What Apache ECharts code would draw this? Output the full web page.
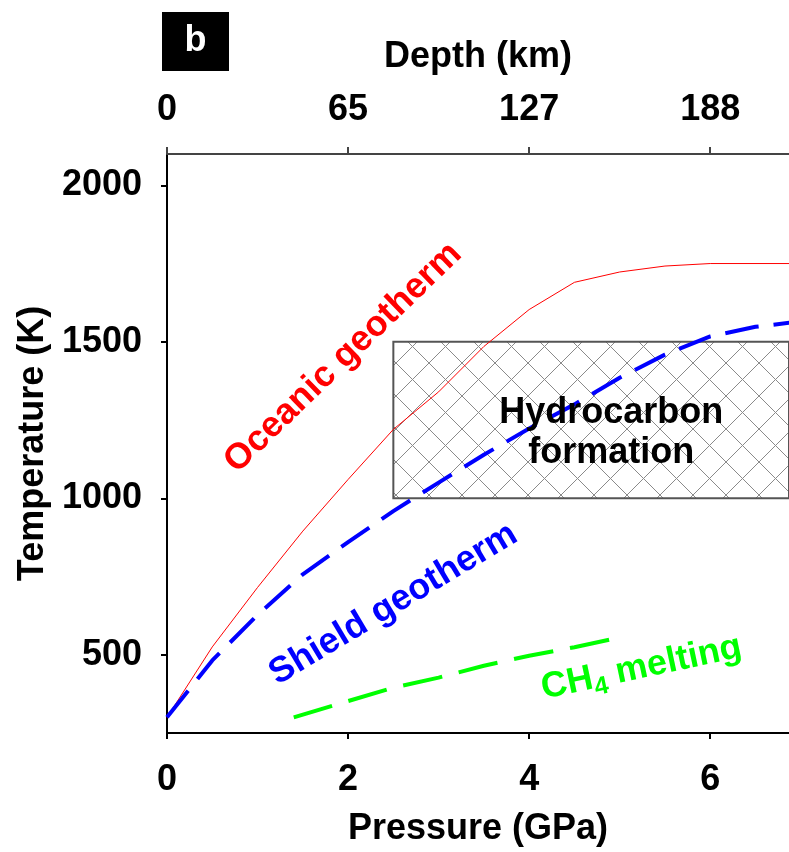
<!DOCTYPE html>
<html>
<head>
<meta charset="utf-8">
<script src="https://cdn.jsdelivr.net/npm/echarts@6/dist/echarts.min.js"></script>
<style>
html, body { margin: 0; padding: 0; background: #fff; }
#main { width: 789px; height: 852px; }
</style>
</head>
<body>
<div id="main"></div>
<script>
// 数据：压力 (GPa) / 温度 (K)
var oceanicP = [0, 0.5, 1, 1.5, 2, 2.5, 3, 3.5, 4, 4.5, 5, 5.5, 6, 7];
var oceanicT = [300, 525, 715, 895, 1060, 1220, 1340, 1485, 1603, 1690, 1723, 1742, 1750, 1750];
var shieldP = [0, 0.5, 1, 1.5, 2, 2.5, 3, 3.5, 4, 4.5, 5, 5.5, 6, 6.5, 7];
var shieldT = [300, 482, 627, 757, 860, 959, 1050, 1139, 1223, 1300, 1385, 1459, 1517, 1548, 1565];
var ch4P = [1.4, 2, 2.5, 3, 3.5, 4, 4.5, 4.95];
var ch4T = [300, 352, 395, 427, 465, 497, 524, 552];
// 烃类生成区域
var hcPressure = [2.5, 7];
var hcTemp = [1000, 1500];
// 刻度
var pressureTicks = [0, 2, 4, 6];
var depthLabels = ['0', '65', '127', '188'];
var tempTicks = [500, 1000, 1500, 2000];

var xMax = 6.87;
var fontFam = "'Liberation Sans', Arial, sans-serif";

function zip(a, b) {
    return a.map(function (v, i) { return [v, b[i]]; });
}

// 网格图案
function hatchPattern() {
    var s = 33;
    var c = document.createElement('canvas');
    c.width = s; c.height = s;
    var ctx = c.getContext('2d');
    ctx.fillStyle = '#fff';
    ctx.fillRect(0, 0, s, s);
    ctx.strokeStyle = '#8a8a8a';
    ctx.lineWidth = 1;
    ctx.beginPath();
    ctx.moveTo(-2, -2); ctx.lineTo(s + 2, s + 2);
    ctx.moveTo(s + 2, -2); ctx.lineTo(-2, s + 2);
    ctx.stroke();
    return { image: c, repeat: 'repeat' };
}

(function () {
    var myChart = echarts.init(document.getElementById('main'), null, { renderer: 'canvas' });
    var boldText = { fontSize: 36, fontWeight: 'bold', color: '#000', fontFamily: fontFam };

    var option = {
        animation: false,
        backgroundColor: '#fff',
        grid: { left: 167, right: 0, top: 154, bottom: 118 },
        xAxis: [
            {
                type: 'value', position: 'bottom', min: 0, max: xMax,
                name: 'Pressure (GPa)', nameLocation: 'middle', nameGap: 78,
                nameTextStyle: boldText,
                axisLine: { show: true, onZero: false, lineStyle: { color: '#000', width: 2 } },
                axisTick: { show: true, length: 6, customValues: pressureTicks, lineStyle: { color: '#000', width: 2 } },
                axisLabel: Object.assign({ customValues: pressureTicks, margin: 29 }, boldText),
                splitLine: { show: false }
            },
            {
                type: 'value', position: 'top', min: 0, max: xMax,
                name: 'Depth (km)', nameLocation: 'middle', nameGap: 79,
                nameTextStyle: boldText,
                axisLine: { show: true, onZero: false, lineStyle: { color: '#444', width: 2 } },
                axisTick: { show: true, length: 7, customValues: pressureTicks, lineStyle: { color: '#444', width: 2 } },
                axisLabel: Object.assign({
                    customValues: pressureTicks, margin: 26,
                    formatter: function (v) {
                        var i = pressureTicks.indexOf(v);
                        return i < 0 ? '' : depthLabels[i];
                    }
                }, boldText),
                splitLine: { show: false }
            }
        ],
        yAxis: {
            type: 'value', min: 250, max: 2100,
            name: 'Temperature (K)', nameLocation: 'middle', nameGap: 105,
            nameTextStyle: boldText,
            axisLine: { show: true, onZero: false, lineStyle: { color: '#000', width: 2 } },
            axisTick: { show: true, length: 6, customValues: tempTicks, lineStyle: { color: '#000', width: 2 } },
            axisLabel: Object.assign({
                customValues: tempTicks, margin: 25,
                formatter: function (v) { return String(v); }
            }, boldText),
            splitLine: { show: false }
        },
        series: [
            {
                // 烃类生成区
                type: 'line', data: [], z: 1,
                markArea: {
                    silent: true,
                    itemStyle: { color: hatchPattern(), borderColor: '#555', borderWidth: 2, opacity: 1 },
                    data: [[
                        { xAxis: hcPressure[0], yAxis: hcTemp[0] },
                        { xAxis: hcPressure[1], yAxis: hcTemp[1] }
                    ]]
                }
            },
            {
                name: 'Oceanic geotherm', type: 'line', z: 3,
                data: zip(oceanicP, oceanicT), symbol: 'none', clip: true,
                lineStyle: { color: '#ff0000', width: 1 }
            },
            {
                name: 'Shield geotherm', type: 'line', z: 3,
                data: zip(shieldP, shieldT), symbol: 'none', clip: true,
                lineStyle: { color: '#0000ff', width: 4, type: [34, 15], cap: 'butt' }
            },
            {
                name: 'CH4 melting', type: 'line', z: 3,
                data: zip(ch4P, ch4T), symbol: 'none', clip: true,
                lineStyle: { color: '#00ff00', width: 4, type: [40, 17], cap: 'butt' }
            }
        ]
    };
    myChart.setOption(option);

    // 注释文字
    function px(p, t) {
        return myChart.convertToPixel({ xAxisIndex: 0, yAxisIndex: 0 }, [p, t]);
    }
    function label(p, t, deg, style) {
        var pt = px(p, t);
        return {
            type: 'text', x: pt[0], y: pt[1], z: 10,
            rotation: deg * Math.PI / 180,
            style: Object.assign({
                align: 'center', verticalAlign: 'middle',
                fontSize: 36, fontWeight: 'bold', fontFamily: fontFam
            }, style)
        };
    }

    myChart.setOption({
        graphic: [
            { type: 'rect', shape: { x: 162, y: 12, width: 67, height: 59 }, style: { fill: '#000' } },
            {
                type: 'text', x: 195.5, y: 41,
                style: { text: 'b', fill: '#fff', fontSize: 36, fontWeight: 'bold', fontFamily: fontFam, align: 'center', verticalAlign: 'middle' }
            },
            label(1.945, 1449, 44, { text: 'Oceanic geotherm', fill: '#ff0000' }),
            label(2.5, 662, 31, { text: 'Shield geotherm', fill: '#0000ff' }),
            label(4.906, 1207, 0, { text: 'Hydrocarbon\nformation', fill: '#000', lineHeight: 40 }),
            label(5.24, 458, 12, {
                text: '{a|CH}{s|4}{a| melting}', fill: '#00ff00',
                rich: {
                    a: { fontSize: 36, fontWeight: 'bold', fontFamily: fontFam, fill: '#00ff00', lineHeight: 46 },
                    s: { fontSize: 25, fontWeight: 'bold', fontFamily: fontFam, fill: '#00ff00', lineHeight: 24, verticalAlign: 'bottom' }
                }
            })
        ]
    });

    window.addEventListener('resize', function () {
        myChart.resize();
    });
})();
</script>
</body>
</html>
